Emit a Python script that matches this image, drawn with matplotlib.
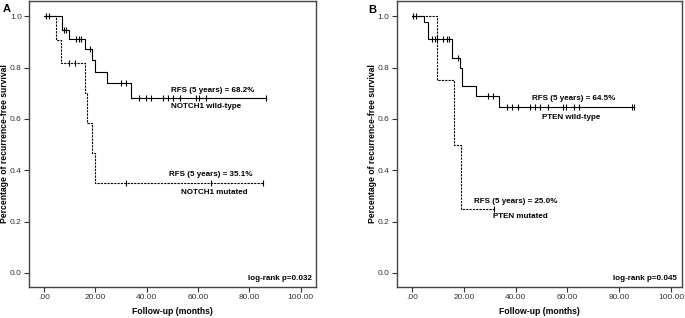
import numpy as np
import matplotlib.pyplot as plt

plt.rcParams['font.family'] = ['Liberation Sans', 'DejaVu Sans']

# Panel A: NOTCH1
a_wt_times = [0, 7.1, 9.7, 16.0, 18.9, 20.1, 24.8, 34.1, 86.3]
a_wt_surv = [1.0, 0.946, 0.913, 0.873, 0.828, 0.784, 0.740, 0.682, 0.682]
a_wt_cens = [1.0, 2.0, 7.9, 8.8, 12.7, 13.6, 14.4, 17.9, 30.0, 31.9,
             36.9, 39.6, 41.9, 46.4, 48.4, 50.1, 52.9, 59.4, 60.3, 63.0, 86.3]
a_mu_times = [0, 4.9, 6.6, 16.0, 16.9, 18.8, 20.1, 85.2]
a_mu_surv = [1.0, 0.909, 0.818, 0.700, 0.583, 0.467, 0.351, 0.351]
a_mu_cens = [9.9, 12.1, 31.9, 65.0, 85.2]

# Panel B: PTEN
b_wt_times = [0, 4.6, 6.2, 15.5, 18.4, 19.3, 24.5, 33.5, 85.6]
b_wt_surv = [1.0, 0.978, 0.910, 0.839, 0.800, 0.730, 0.691, 0.645, 0.645]
b_wt_cens = [0.4, 1.4, 7.5, 8.8, 9.7, 12.0, 13.3, 14.3, 17.8, 29.4, 31.1,
             36.5, 38.4, 41.0, 45.5, 47.4, 49.3, 52.3, 58.3, 59.3, 62.6, 64.6,
             84.8, 85.6]
b_mu_times = [0, 9.7, 16.2, 18.7, 31.5]
b_mu_surv = [1.0, 0.75, 0.50, 0.25, 0.25]
b_mu_cens = [31.5]

xticks = [0, 20, 40, 60, 80, 100]
xticklabels = ['.00', '20.00', '40.00', '60.00', '80.00', '100.00']
yticks = [0.0, 0.2, 0.4, 0.6, 0.8, 1.0]


def surv_at(times, surv, t):
    idx = np.searchsorted(times, t, side='right') - 1
    return np.array(surv)[idx]


def km_curve(ax, times, surv, cens, ls):
    ax.step(times, surv, where='post', color='k', lw=0.8, ls=ls)
    cy = [surv_at(times, surv, c) for c in cens]
    ax.plot(cens, cy, ls='none', marker='|', ms=4.5, mew=0.8, color='k')


def setup(ax, pval, xlim):
    ax.set_xlim(xlim)
    ax.set_ylim(-0.055, 1.06)
    ax.set_xticks(xticks)
    ax.set_xticklabels(xticklabels)
    ax.set_yticks(yticks)
    ax.set_yticklabels(['%.1f' % v for v in yticks])
    ax.tick_params(labelsize=6, length=3.5, width=0.8, colors='#333333',
                   pad=1.5)
    for s in ax.spines.values():
        s.set_color('#444444')
        s.set_linewidth(1.0)
    ax.set_xlabel('Follow-up (months)', fontsize=6.2, fontweight='bold',
                  va='center')
    ax.xaxis.set_label_coords(0.5, -0.087)
    ax.set_ylabel('Percentage of recurrence-free survival', fontsize=6.2,
                  fontweight='bold', va='center')
    ax.yaxis.set_label_coords(-0.085, 0.5)
    ax.text(0.985, 0.03, pval, transform=ax.transAxes, ha='right',
            va='center', fontsize=5.8, fontweight='bold')


def note(ax, x, y, s):
    ax.text(x, y, s, ha='center', va='center', fontsize=5.8,
            fontweight='bold')


fig = plt.figure(figsize=(6.85, 3.18), dpi=100)
axA = fig.add_axes([0.042, 0.0975, 0.419, 0.8995])
axB = fig.add_axes([0.579, 0.0975, 0.416, 0.8995])

km_curve(axA, a_wt_times, a_wt_surv, a_wt_cens, '-')
km_curve(axA, a_mu_times, a_mu_surv, a_mu_cens, (0, (2, 1)))
setup(axA, 'log-rank p=0.032', (-5.8, 105.8))
note(axA, 65.9, 0.712, 'RFS (5 years) = 68.2%')
note(axA, 63.3, 0.647, 'NOTCH1 wild-type')
note(axA, 65.0, 0.383, 'RFS (5 years) = 35.1%')
note(axA, 66.3, 0.315, 'NOTCH1 mutated')

km_curve(axB, b_wt_times, b_wt_surv, b_wt_cens, '-')
km_curve(axB, b_mu_times, b_mu_surv, b_mu_cens, (0, (2, 1)))
setup(axB, 'log-rank p=0.045', (-6.0, 104.1))
note(axB, 62.5, 0.678, 'RFS (5 years) = 64.5%')
note(axB, 61.6, 0.607, 'PTEN wild-type')
note(axB, 40.0, 0.279, 'RFS (5 years) = 25.0%')
note(axB, 41.9, 0.219, 'PTEN mutated')

fig.text(3 / 685, 1 - 9 / 318, 'A', fontsize=8, fontweight='bold',
         ha='left', va='center')
fig.text(368 / 685, 1 - 10 / 318, 'B', fontsize=8, fontweight='bold',
         ha='left', va='center')

fig.savefig('out.png', dpi=100)
